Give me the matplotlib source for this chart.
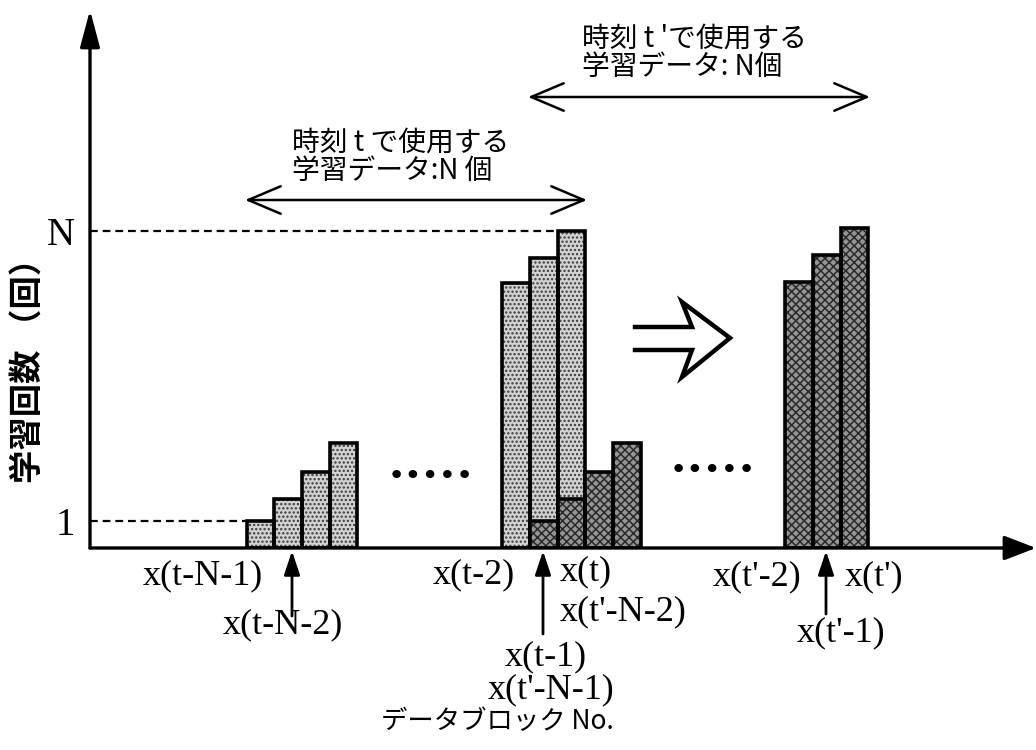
import numpy as np
import matplotlib
matplotlib.use("Agg")
import matplotlib.pyplot as plt
from matplotlib.lines import Line2D
from matplotlib.patches import FancyArrowPatch

W, H = 1036, 750
SERIF = ["Liberation Serif", "DejaVu Serif"]
JP = ["Noto Sans CJK JP", "DejaVu Sans"]

# ---------------------------------------------------------------------------
# Data (block positions in slot units, counts in "training times")
# ---------------------------------------------------------------------------
N_LEVEL = 11.75
ONE_LEVEL = 1.0

old_pos = [0, 1, 2, 3]                   # x(t-N-1) ... used at time t
old_cnt = [1.0, 1.8, 2.8, 3.9]

mid_pos = [9.22, 10.22, 11.22]           # x(t-2), x(t-1), x(t)
mid_cnt = [9.8, 10.75, 11.75]

new_pos = [10.22, 11.22, 12.22, 13.22]   # x(t'-N-1) ... used at time t'
new_cnt = [1.0, 1.8, 2.8, 3.9]

late_pos = [19.44, 20.44, 21.44]         # x(t'-2), x(t'-1), x(t')
late_cnt = [9.85, 10.85, 11.85]

LIGHT = "#d2d2d2"
DARK = "#959595"


def fx(px):
    return px / W


def fy(py):
    return 1 - py / H


fig = plt.figure(figsize=(W / 100, H / 100), dpi=100)
fig.patch.set_facecolor("white")
ax = fig.add_axes([fx(90), fy(548), (W - 90) / W, 538 / H])
ax.set_xlim(-6.155, 27.99)
ax.set_ylim(0, 19.93)
for s in ax.spines.values():
    s.set_visible(False)
ax.set_xticks([])
ax.set_yticks([ONE_LEVEL, N_LEVEL], ["1", "N"])
ax.tick_params(axis="y", length=0, pad=11)
for lab in ax.get_yticklabels():
    lab.set_fontfamily(SERIF)
    lab.set_fontsize(28)

plt.rcParams["hatch.linewidth"] = 1.1

# --- bars: fill with stipple, then bold outline ---------------------------
def bars(pos, cnt, face, hatch, hcol, z):
    ax.bar(pos, cnt, width=1.0, color=face, edgecolor=hcol, hatch=hatch,
           linewidth=0, zorder=z)
    ax.bar(pos, cnt, width=1.0, facecolor="none", edgecolor="black",
           linewidth=2.6, zorder=z + 0.5)

bars(old_pos, old_cnt, LIGHT, "....", "#3a3a3a", 2)
bars(mid_pos, mid_cnt, LIGHT, "....", "#3a3a3a", 2)
bars(new_pos, new_cnt, DARK, "xxxx", "#2a2a2a", 3)
bars(late_pos, late_cnt, DARK, "xxxx", "#2a2a2a", 3)

# dashed guides to the tick levels
ax.plot([ax.get_xlim()[0], mid_pos[2] - 0.5], [N_LEVEL, N_LEVEL],
        color="black", lw=1.6, ls=(0, (3.5, 2.2)), zorder=1)
ax.plot([ax.get_xlim()[0], old_pos[0] - 0.5], [ONE_LEVEL, ONE_LEVEL],
        color="black", lw=1.6, ls=(0, (3.5, 2.2)), zorder=1)

# axes drawn as arrows
ax.annotate("", xy=(0, 1), xytext=(0, 0), xycoords="axes fraction",
            arrowprops=dict(arrowstyle="-|>,head_length=1.5,head_width=0.4",
                            color="black", lw=2.4, mutation_scale=15,
                            shrinkA=0, shrinkB=0), zorder=5)
ax.annotate("", xy=(1, 0), xytext=(0, 0), xycoords="axes fraction",
            arrowprops=dict(arrowstyle="-|>,head_length=1.3,head_width=0.5",
                            color="black", lw=2.4, mutation_scale=15,
                            shrinkA=0, shrinkB=0), zorder=5)

# ellipsis dots between block groups
fig.text(fx(431), fy(476), "•••••", fontsize=21, ha="center", va="center",
         family="DejaVu Sans")
fig.text(fx(713), fy(470), "•••••", fontsize=21, ha="center", va="center",
         family="DejaVu Sans")

# hollow "⇒" arrow between states
hx = [635, 692, 682, 730, 682, 692, 635]
hy = [327, 327, 302, 338, 377, 350, 350]
fig.add_artist(Line2D([fx(v) for v in hx], [fy(v) for v in hy],
                      transform=fig.transFigure, color="black", lw=3.2,
                      solid_joinstyle="miter"))

# ---------------------------------------------------------------------------
# Labels
# ---------------------------------------------------------------------------
fig.text(fx(28), fy(362), "学習回数 （回）", rotation=90, fontsize=24,
         fontweight="bold", family=JP, ha="center", va="center")
fig.text(fx(497), fy(722), "データブロック No.", fontsize=19, family=JP,
         ha="center", va="center")

xlabels = [
    ("x(t-N-1)", 143, 576),
    ("x(t-N-2)", 223, 625),
    ("x(t-2)", 433, 575),
    ("x(t)", 560, 572),
    ("x(t'-N-2)", 560, 612),
    ("x(t-1)", 505, 657),
    ("x(t'-N-1)", 488, 690),
    ("x(t'-2)", 713, 577),
    ("x(t')", 845, 577),
    ("x(t'-1)", 797, 633),
]
for txt, px, py in xlabels:
    fig.text(fx(px), fy(py), txt, fontsize=26, family=SERIF,
             ha="left", va="center")

up_arrows = [(292, 616), (543, 634), (826, 614)]
for px, py in up_arrows:
    fig.add_artist(FancyArrowPatch(
        (fx(px), fy(py)), (fx(px), fy(551)), transform=fig.transFigure,
        arrowstyle="-|>,head_length=0.9,head_width=0.3", mutation_scale=16,
        color="black", lw=2.0, shrinkA=0, shrinkB=0))

# time-window annotations (two lines each, one text object)
spans = [
    ("時刻 t で使用する\n学習データ:N 個", 292, 157, 245, 587, 200),
    ("時刻 t 'で使用する\n学習データ: N個", 582, 53, 528, 870, 97),
]
for txt, tx, ty, xa, xb, ya in spans:
    fig.text(fx(tx), fy(ty), txt, fontsize=20, family=JP, ha="left",
             va="center", linespacing=0.95)
    fig.add_artist(FancyArrowPatch(
        (fx(xa), fy(ya)), (fx(xb), fy(ya)), transform=fig.transFigure,
        arrowstyle="<->,head_length=1.3,head_width=0.55", mutation_scale=18,
        color="black", lw=1.8, shrinkA=0, shrinkB=0))

fig.savefig("out.png", dpi=100, facecolor="white")
